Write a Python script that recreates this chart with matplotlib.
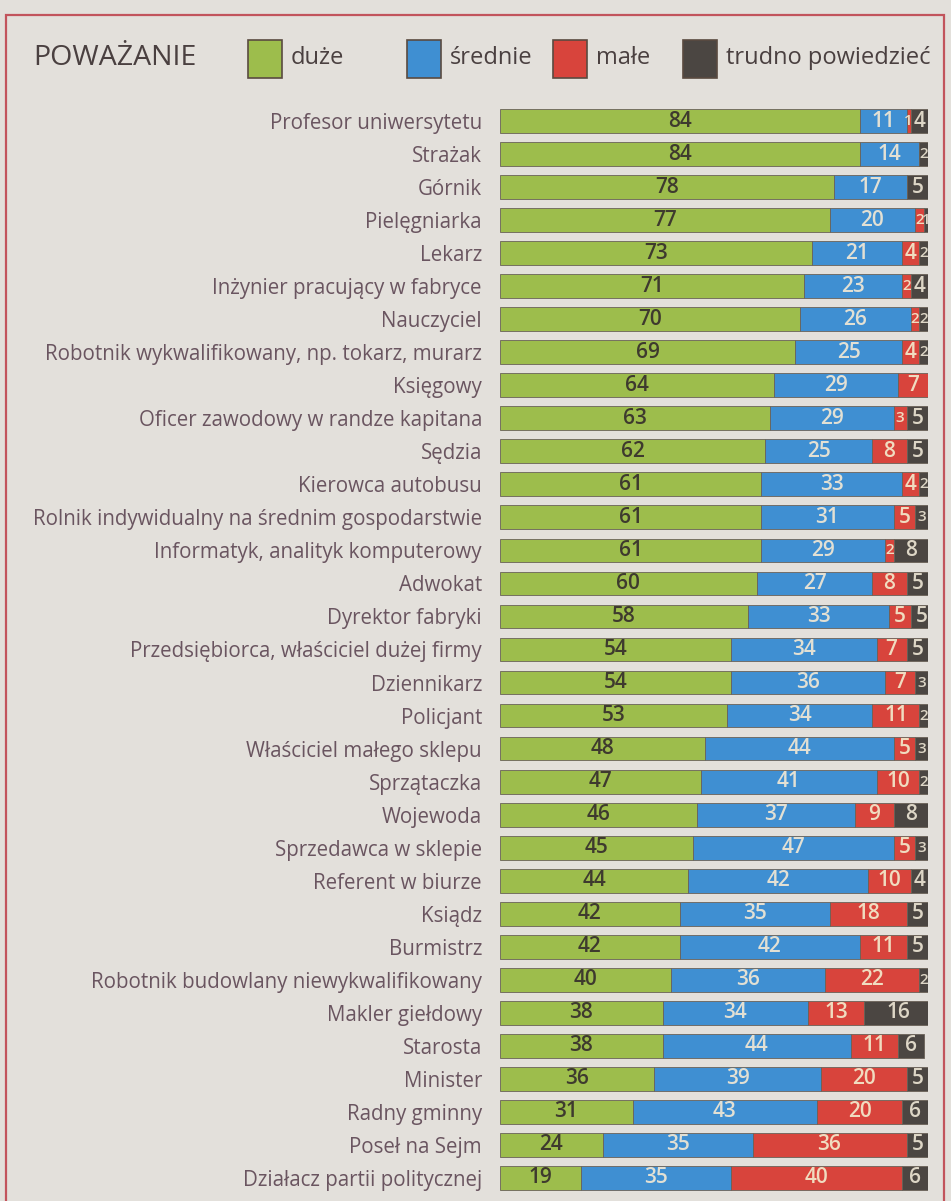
import numpy as np
import matplotlib
matplotlib.use("Agg")
import matplotlib.pyplot as plt
from matplotlib.patches import Rectangle

# data
zawody = ["Profesor uniwersytetu", "Strażak", "Górnik", "Pielęgniarka", "Lekarz",
          "Inżynier pracujący w fabryce", "Nauczyciel",
          "Robotnik wykwalifikowany, np. tokarz, murarz", "Księgowy",
          "Oficer zawodowy w randze kapitana", "Sędzia", "Kierowca autobusu",
          "Rolnik indywidualny na średnim gospodarstwie",
          "Informatyk, analityk komputerowy", "Adwokat", "Dyrektor fabryki",
          "Przedsiębiorca, właściciel dużej firmy", "Dziennikarz", "Policjant",
          "Właściciel małego sklepu", "Sprzątaczka", "Wojewoda",
          "Sprzedawca w sklepie", "Referent w biurze", "Ksiądz", "Burmistrz",
          "Robotnik budowlany niewykwalifikowany", "Makler giełdowy", "Starosta",
          "Minister", "Radny gminny", "Poseł na Sejm", "Działacz partii politycznej"]
duze    = [84, 84, 78, 77, 73, 71, 70, 69, 64, 63, 62, 61, 61, 61, 60, 58, 54, 54, 53,
           48, 47, 46, 45, 44, 42, 42, 40, 38, 38, 36, 31, 24, 19]
srednie = [11, 14, 17, 20, 21, 23, 26, 25, 29, 29, 25, 33, 31, 29, 27, 33, 34, 36, 34,
           44, 41, 37, 47, 42, 35, 42, 36, 34, 44, 39, 43, 35, 35]
male    = [1, 0, 0, 2, 4, 2, 2, 4, 7, 3, 8, 4, 5, 2, 8, 5, 7, 7, 11,
           5, 10, 9, 5, 10, 18, 11, 22, 13, 11, 20, 20, 36, 40]
trudno  = [4, 2, 5, 1, 2, 4, 2, 2, 0, 5, 5, 2, 3, 8, 5, 5, 5, 3, 2,
           3, 2, 8, 3, 4, 5, 5, 2, 16, 6, 5, 6, 5, 6]

kategorie = ["duże", "średnie", "małe", "trudno powiedzieć"]
kolory = ["#9dbd4c", "#3f8fd2", "#d8443c", "#4b4642"]
kolory_liczb = ["#3e3a2e", "#e2e0d4", "#f0dcc0", "#ddd6c6"]

bg = "#e3e0db"
fnt = "Open Sans"

fig = plt.figure(figsize=(9.51, 12.01), dpi=100, facecolor=bg)

# ramka
fig.patches.append(Rectangle((6 / 951, -0.01), 938 / 951, 1.0 - 15 / 1201 + 0.01,
                             transform=fig.transFigure, fill=False,
                             edgecolor="#c2545c", lw=1.6))

# legenda
ly = 1 - 58 / 1201
fig.text(33 / 951, ly, "POWAŻANIE", fontsize=20.5, color="#4a4040",
         family=fnt, va="center", ha="left")
leg_x = [248, 407, 553, 683]
for kx, kat, kol in zip(leg_x, kategorie, kolory):
    fig.patches.append(Rectangle((kx / 951, 1 - 78 / 1201), 34 / 951, 38 / 1201,
                                 transform=fig.transFigure, facecolor=kol,
                                 edgecolor="#5a4a40", lw=1.2))
    fig.text((kx + 43) / 951, ly, kat, fontsize=17, color="#4a4040",
             family=fnt, va="center", ha="left")

# wykres
ax = fig.add_axes([500 / 951, 1 - 1194.5 / 1201, 428 / 951, 1090 / 1201])
ax.set_facecolor("none")
n = len(zawody)
y = np.arange(n)
serie = [duze, srednie, male, trudno]
left = np.zeros(n)
for vals, kol, tk in zip(serie, kolory, kolory_liczb):
    vals = np.array(vals, dtype=float)
    ax.barh(y, vals, left=left, height=0.72, color=kol,
            edgecolor="#6a6258", linewidth=0.6)
    for i in range(n):
        if vals[i] > 0:
            fs = 15 if vals[i] >= 4 else 11
            ax.text(left[i] + vals[i] / 2, y[i], str(int(vals[i])),
                    ha="center", va="center", fontsize=fs, color=tk,
                    family=fnt, fontweight="semibold")
    left += vals

ax.set_xlim(0, 100)
ax.set_ylim(n - 0.5, -0.5)
ax.set_yticks(y)
ax.set_yticklabels(zawody, family=fnt, fontsize=14.8, color="#6a5560")
ax.tick_params(axis="y", length=0, pad=13)
ax.set_xticks([])
for s in ax.spines.values():
    s.set_visible(False)

fig.savefig("out.png", dpi=100, facecolor=bg)
